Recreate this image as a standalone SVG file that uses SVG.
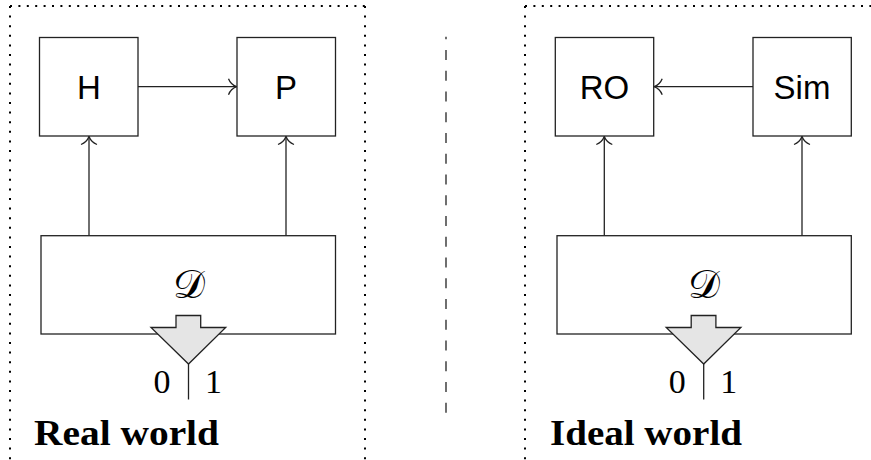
<svg xmlns="http://www.w3.org/2000/svg" width="871" height="460" viewBox="0 0 871 460">
<style>
.frameh{stroke:#000;stroke-width:2;stroke-dasharray:2 6.4;fill:none}
.framev{stroke:#000;stroke-width:2;stroke-dasharray:2 7.6;fill:none}
.box{fill:#fff;stroke:#222;stroke-width:1.3}
.conn{stroke:#222;stroke-width:1.3;fill:none}
.funnel{fill:#e5e5e5;stroke:#222;stroke-width:1.3;stroke-linejoin:miter}
.lbl{font-family:"Liberation Sans",Arial,sans-serif;font-size:33px;fill:#000;text-anchor:middle}
.cal{font-family:"DejaVu Serif","Liberation Serif",serif;font-size:40px;fill:#000;text-anchor:middle}
.dig{font-family:"Liberation Serif",serif;font-size:34px;fill:#000;text-anchor:middle}
.title{font-family:"Liberation Serif",serif;font-weight:bold;font-size:35px;fill:#000}
</style>
<defs>
<marker id="arr" markerUnits="userSpaceOnUse" markerWidth="20" markerHeight="20" viewBox="-10 -10 20 20" refX="0" refY="0" orient="auto">
<path d="M-8,-8 C-6,-3 -2,-0.8 0,0 C-2,0.8 -6,3 -8,8" fill="none" stroke="#222" stroke-width="1.3"/>
</marker>
</defs>

<g id="frames">
<line class="framev" x1="10" y1="6" x2="10" y2="462"/>
<line class="frameh" x1="10" y1="6" x2="365" y2="6"/>
<line class="framev" x1="365" y1="6" x2="365" y2="462"/>
<line class="framev" x1="525" y1="6" x2="525" y2="462"/>
<line class="frameh" x1="525" y1="6" x2="875" y2="6"/>
</g>

<g id="separator">
<line x1="446" y1="36.7" x2="446" y2="412.7" stroke="#222" stroke-width="1.3" stroke-dasharray="10 10.75" stroke-dashoffset="7.4"/>
</g>

<g id="connectors">
<line class="conn" x1="138" y1="86.7" x2="236.5" y2="86.7" marker-end="url(#arr)"/>
<line class="conn" x1="89" y1="235.7" x2="89" y2="136.5" marker-end="url(#arr)"/>
<line class="conn" x1="286" y1="235.7" x2="286" y2="136.5" marker-end="url(#arr)"/>
<line class="conn" x1="753" y1="86.7" x2="654.2" y2="86.7" marker-end="url(#arr)"/>
<line class="conn" x1="604.3" y1="235.7" x2="604.3" y2="136.5" marker-end="url(#arr)"/>
<line class="conn" x1="802" y1="235.7" x2="802" y2="136.5" marker-end="url(#arr)"/>
<line class="conn" x1="188.5" y1="364" x2="188.5" y2="399.5"/>
<line class="conn" x1="703.7" y1="364" x2="703.7" y2="399.5"/>
</g>

<g id="node-H">
<rect class="box" x="39.5" y="37.5" width="98.5" height="98.5"/>
<text class="lbl" x="89" y="99">H</text>
</g>
<g id="node-P">
<rect class="box" x="237" y="37.5" width="98.5" height="98.5"/>
<text class="lbl" x="286" y="99">P</text>
</g>
<g id="node-D-real">
<rect class="box" x="41" y="235.7" width="294.5" height="98.3"/>
<text class="cal" x="189" y="298">𝒟</text>
<path class="funnel" d="M176,315.5 H200.7 V327.5 H225.7 L188.5,364 L151,327.5 H176 Z"/>
<text class="dig" x="162" y="392.5">0</text>
<text class="dig" x="213.5" y="392.5">1</text>
</g>
<g id="label-real">
<text class="title" x="34" y="445" textLength="185" lengthAdjust="spacingAndGlyphs">Real world</text>
</g>

<g id="node-RO">
<rect class="box" x="555.3" y="37.5" width="98.4" height="98.5"/>
<text class="lbl" x="604.5" y="99">RO</text>
</g>
<g id="node-Sim">
<rect class="box" x="753" y="37.5" width="98.3" height="98.5"/>
<text class="lbl" x="802" y="99">Sim</text>
</g>
<g id="node-D-ideal">
<rect class="box" x="557" y="235.7" width="294.3" height="98.3"/>
<text class="cal" x="703.5" y="298">𝒟</text>
<path class="funnel" d="M691.2,315.5 H715.9 V327.5 H740.9 L703.7,364 L666.2,327.5 H691.2 Z"/>
<text class="dig" x="677.2" y="392.5">0</text>
<text class="dig" x="728.7" y="392.5">1</text>
</g>
<g id="label-ideal">
<text class="title" x="550" y="445" textLength="192" lengthAdjust="spacingAndGlyphs">Ideal world</text>
</g>
</svg>
